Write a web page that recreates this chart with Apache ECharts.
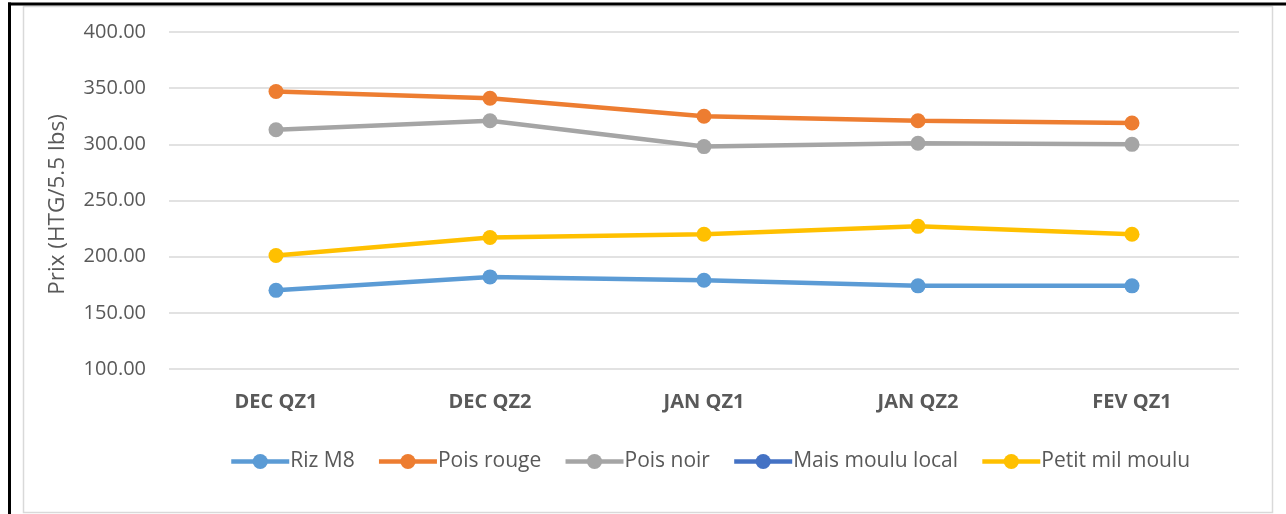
<!DOCTYPE html>
<html>
<head>
<meta charset="utf-8">
<script src="https://cdn.jsdelivr.net/npm/echarts@6/dist/echarts.min.js"></script>
<style>html,body{margin:0;padding:0;background:#fff}#c{width:1286px;height:514px}</style>
</head>
<body>
<div id="c"></div>
<script>
const categories = ['DEC QZ1', 'DEC QZ2', 'JAN QZ1', 'JAN QZ2', 'FEV QZ1'];
const rizM8 = [170, 182, 179, 174, 174];
const poisRouge = [347, 341, 325, 321, 319];
const poisNoir = [313, 321, 298, 301, 300];
const maisMouluLocal = [null, null, null, null, null];
const petitMilMoulu = [201, 217, 220, 227, 220];
const seriesNames = ['Riz M8', 'Pois rouge', 'Pois noir', 'Mais moulu local', 'Petit mil moulu'];
const colors = ['#5B9BD5', '#ED7D31', '#A5A5A5', '#4472C4', '#FFC000'];
const seriesData = [rizM8, poisRouge, poisNoir, maisMouluLocal, petitMilMoulu];

const FONT = '"Open Sans", "Noto Sans", sans-serif';
const chart = echarts.init(document.getElementById('c'));
chart.setOption({
  animation: false,
  color: colors,
  graphic: [
    { type: 'rect', shape: { x: 23.5, y: 6.5, width: 1249, height: 506 }, style: { fill: 'none', stroke: '#D9D9D9', lineWidth: 1.5 }, z: -1 },
    { type: 'rect', shape: { x: 8, y: 2.5, width: 1278, height: 3 }, style: { fill: '#000' } },
    { type: 'rect', shape: { x: 8, y: 2.5, width: 3, height: 512 }, style: { fill: '#000' } }
  ],
  grid: { left: 169, right: 47, top: 32, bottom: 145, containLabel: false },
  legend: {
    left: 229, top: 451, padding: 0,
    itemWidth: 58, itemHeight: 19, itemGap: 22,
    lineStyle: { width: 4.5 },
    textStyle: { fontFamily: FONT, fontSize: 21, color: '#595959', padding: [0, 0, 0, -4] },
    data: seriesNames
  },
  xAxis: {
    type: 'category', data: categories, boundaryGap: true,
    axisLine: { show: false }, axisTick: { show: false },
    axisLabel: { margin: 23, fontFamily: FONT, fontSize: 20, fontWeight: 'bold', color: '#595959' }
  },
  yAxis: {
    type: 'value', min: 100, max: 400, interval: 50,
    name: 'Prix (HTG/5.5 lbs)', nameLocation: 'middle', nameGap: 100,
    nameTextStyle: { fontFamily: FONT, fontSize: 22.5, color: '#595959', padding: [0, 0, 0, -8] },
    axisLine: { show: false }, axisTick: { show: false },
    axisLabel: { margin: 23, fontFamily: FONT, fontSize: 20, color: '#595959', formatter: v => v.toFixed(2) },
    splitLine: { lineStyle: { color: '#D9D9D9', width: 1.5 } }
  },
  series: seriesNames.map((n, i) => ({
    name: n, type: 'line', data: seriesData[i],
    symbol: 'circle', symbolSize: 15,
    lineStyle: { width: 4.5, color: colors[i] },
    itemStyle: { color: colors[i] }
  }))
});
</script>
</body>
</html>
